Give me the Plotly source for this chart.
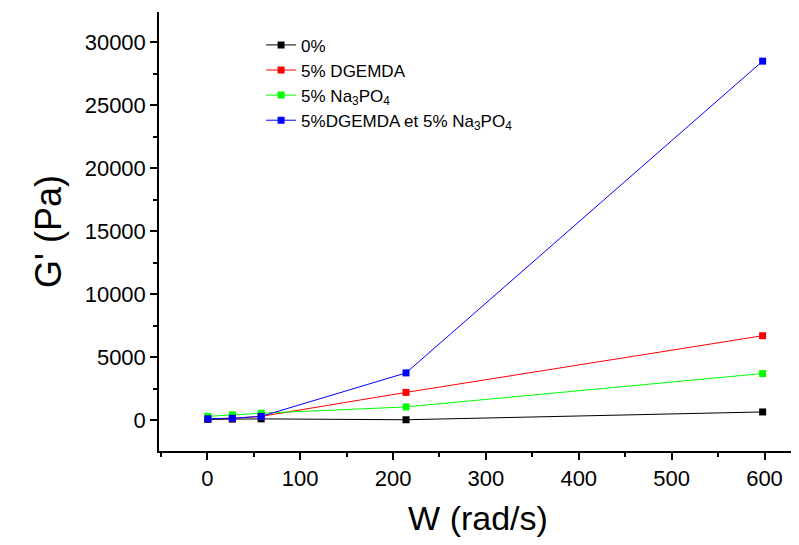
import plotly.graph_objects as go

w = [0.6, 27, 58, 214, 598]
g_0 = [60, 80, 100, 30, 650]
g_dgemda = [120, 150, 300, 2200, 6700]
g_na3po4 = [300, 420, 550, 1050, 3700]
g_both = [110, 150, 300, 3750, 28500]

names = ["0%", "5% DGEMDA", "5% Na<sub>3</sub>PO<sub>4</sub>",
         "5%DGEMDA et 5% Na<sub>3</sub>PO<sub>4</sub>"]
series = [g_0, g_dgemda, g_na3po4, g_both]
colors = ["#000000", "#ff0000", "#00ff00", "#0000ff"]

x_ticks = [0, 100, 200, 300, 400, 500, 600]
y_ticks = [0, 5000, 10000, 15000, 20000, 25000, 30000]

FONT = "Arial, Liberation Sans, sans-serif"

fig = go.Figure()
for n, s, c in zip(names, series, colors):
    fig.add_trace(go.Scatter(x=w, y=s, name=n, mode="lines+markers",
                             line=dict(color=c, width=1),
                             marker=dict(symbol="square", size=7, color=c)))

axis_common = dict(showgrid=False, zeroline=False, showline=True, linecolor="black",
                   linewidth=1.5, ticks="outside", ticklen=7, tickwidth=1.5,
                   tickcolor="black", tickfont=dict(family=FONT, size=22, color="black"),
                   mirror=False)
fig.update_xaxes(range=[-52, 635], tickvals=x_ticks, ticktext=[str(v) for v in x_ticks],
                 minor=dict(ticks="outside", ticklen=4, tickwidth=1.5, dtick=50, tick0=0, tickcolor="black"),
                 title=dict(text="W (rad/s)", font=dict(family=FONT, size=34, color="black"), standoff=16),
                 **axis_common)
fig.update_yaxes(range=[-2450, 32400], tickvals=y_ticks, ticktext=[str(v) for v in y_ticks],
                 minor=dict(ticks="outside", ticklen=4, tickwidth=1.5, dtick=2500, tick0=0, tickcolor="black"),
                 title=dict(text="G' (Pa)", font=dict(family=FONT, size=36, color="black"), standoff=12),
                 **axis_common)
fig.update_layout(width=799, height=545, margin=dict(l=151, r=10, t=4, b=102, autoexpand=False),
                  plot_bgcolor="white", paper_bgcolor="white",
                  legend=dict(x=0.16, y=0.965, xanchor="left", yanchor="top",
                              bgcolor="rgba(0,0,0,0)", tracegroupgap=0,
                              font=dict(family=FONT, size=17, color="black")),
                  showlegend=True)
fig.write_html("out.html")
